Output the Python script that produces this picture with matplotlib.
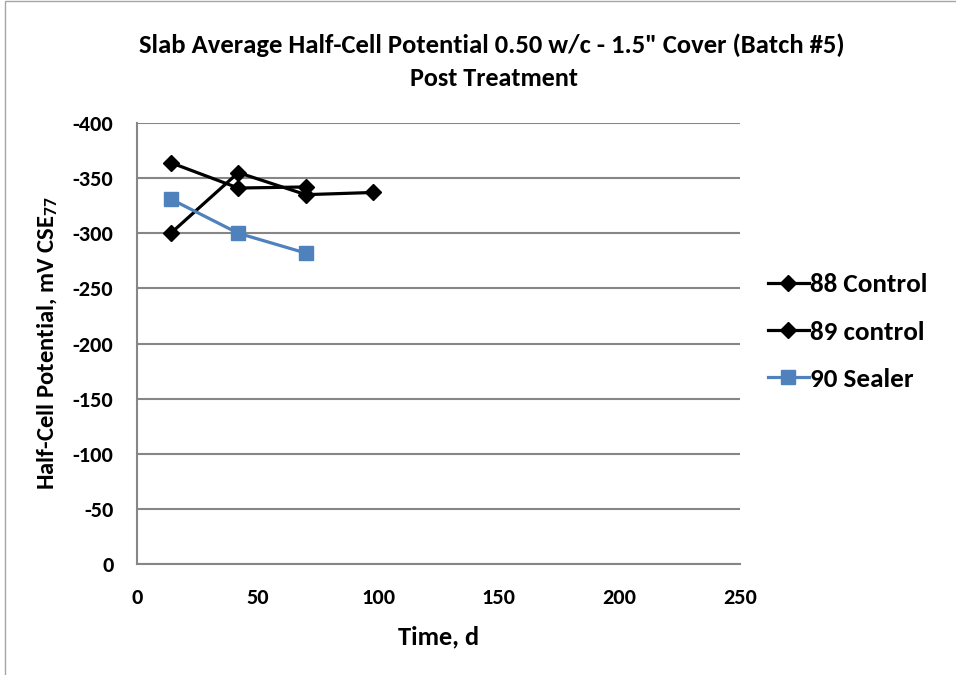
import matplotlib
matplotlib.use("Agg")
import matplotlib.pyplot as plt
from matplotlib.patches import Rectangle

# Data
t88 = [14, 42, 70, 98]
v88 = [-300, -355, -335, -337]
t89 = [14, 42, 70]
v89 = [-364, -341, -342]
t90 = [14, 42, 70]
v90 = [-331, -300, -282]
labels = ["88 Control", "89 control", "90 Sealer"]
xticks = [0, 50, 100, 150, 200, 250]
yticks = [0, -50, -100, -150, -200, -250, -300, -350, -400]

font = ["Carlito", "Lato", "DejaVu Sans"]
plt.rcParams['font.family'] = font
plt.rcParams['font.weight'] = 'bold'
plt.rcParams['axes.unicode_minus'] = False
plt.rcParams['mathtext.fontset'] = 'custom'
plt.rcParams['mathtext.rm'] = 'Carlito:bold'
plt.rcParams['mathtext.default'] = 'rm'

fig = plt.figure(figsize=(9.56, 6.75), dpi=100)
fig.patches.append(Rectangle((5/956, -0.01), 1.0, 1.0 - 1/675 + 0.01, transform=fig.transFigure,
                             fill=False, edgecolor='#a6a6a6', linewidth=1))
ax = fig.add_axes([137/956, 1 - 564/675, (740 - 137)/956, (564 - 123)/675])

grid_c = '#868686'
ax.plot(t88, v88, color='black', lw=2.3, marker='D', ms=8, label=labels[0], zorder=3)
ax.plot(t89, v89, color='black', lw=2.3, marker='D', ms=8, label=labels[1], zorder=3)
ax.plot(t90, v90, color='#4f81bd', lw=2.3, marker='s', ms=10, label=labels[2], zorder=3)

ax.set_xlim(0, 250)
ax.set_ylim(0, -400)
ax.set_xticks(xticks)
ax.set_yticks(yticks)
ax.yaxis.grid(True, color=grid_c, lw=1.5)
ax.set_axisbelow(True)
for s in ['top', 'right']:
    ax.spines[s].set_visible(False)
for s in ['left', 'bottom']:
    ax.spines[s].set_color(grid_c)
    ax.spines[s].set_linewidth(1.5)
ax.tick_params(length=0, labelsize=16)
ax.tick_params(axis='y', pad=17)
ax.tick_params(axis='x', pad=17)
for lab in ax.get_xticklabels() + ax.get_yticklabels():
    lab.set_fontweight('bold')

ax.set_xlabel("Time, d", fontsize=19, fontweight='bold', labelpad=13)
ax.set_ylabel("Half-Cell Potential, mV CSE$_{77}$", fontsize=17.7, fontweight='bold', labelpad=9)
fig.text(492/956, 1 - 45/675, "Slab Average Half-Cell Potential 0.50 w/c - 1.5\" Cover (Batch #5)",
         ha='center', va='center', fontsize=19.2, fontweight='bold')
fig.text(494/956, 1 - 79/675, "Post Treatment", ha='center', va='center', fontsize=18.8, fontweight='bold')

leg = ax.legend(loc='center left', bbox_to_anchor=(1.006, 0.526), frameon=False,
                fontsize=19.5, handlelength=1.5, handletextpad=0.05, labelspacing=0.9)
for txt in leg.get_texts():
    txt.set_fontweight('bold')

fig.savefig("out.png", dpi=100)
